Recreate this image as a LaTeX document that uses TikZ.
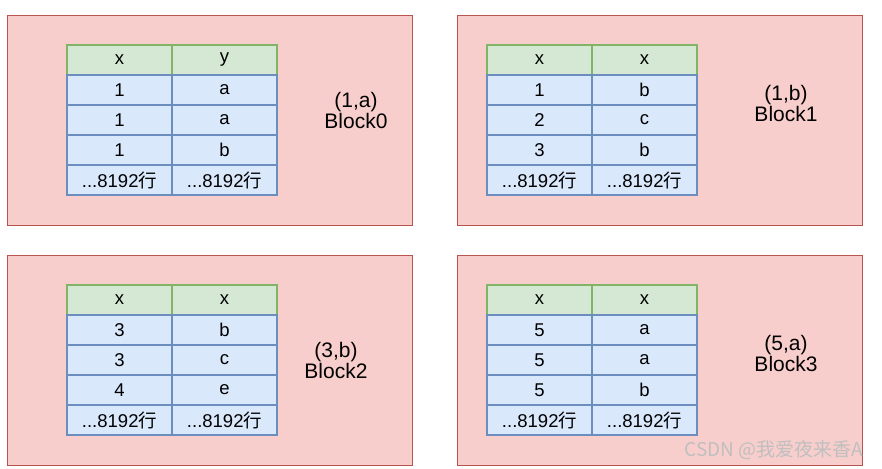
\documentclass[tikz,border=0pt]{standalone}
\usepackage{fontspec}
\setmainfont{Liberation Sans}
\newfontfamily\cjk{Noto Sans CJK SC}
\usetikzlibrary{positioning}
\definecolor{blockfill}{HTML}{F8CECC}
\definecolor{blockline}{HTML}{B85450}
\definecolor{headfill}{HTML}{D5E8D4}
\definecolor{headline}{HTML}{82B366}
\definecolor{cellfill}{HTML}{DAE8FC}
\definecolor{cellline}{HTML}{6C8EBF}
\tikzstyle{block} = [rectangle, draw=blockline, fill=blockfill, line width=1.3pt,
    minimum width=405pt, minimum height=210pt, anchor=north west]
\tikzstyle{head} = [rectangle, draw=headline, fill=headfill, line width=1.5pt,
    minimum width=105pt, minimum height=30pt, inner sep=0pt, outer sep=0pt]
\tikzstyle{cell} = [rectangle, draw=cellline, fill=cellfill, line width=1.5pt,
    minimum width=105pt, minimum height=30pt, inner sep=0pt, outer sep=0pt]
\tikzstyle{tag} = [align=center, font=\fontsize{21}{21}\selectfont]
\newcommand{\hangz}{{\cjk 行}}

\begin{document}
\begin{tikzpicture}[x=1pt, y=-1pt, node distance=0pt, font=\fontsize{18.5}{20}\selectfont]
	\useasboundingbox (0,0) rectangle (882,468);

	% block / corner / table x / header / three rows / key / label place
	\foreach \b/\bx/\by/\tx/\ha/\hb/\aa/\ab/\ba/\bb/\ca/\cb/\key/\lx/\ly in {
		0/7/15/67/x/y/1/a/1/a/1/b/{(1,a)}/356/110,
		1/457/15/487/x/x/1/b/2/c/3/b/{(1,b)}/786/103,
		2/7/255/67/x/x/3/b/3/c/4/e/{(3,b)}/336/360,
		3/457/255/487/x/x/5/a/5/a/5/b/{(5,a)}/786/353}{
		\node [block] (blk\b) at (\bx,\by) {};

		\node [head, anchor=north west] (h\b a) at (\tx,\by+30) {\ha};
		\node [head, right=of h\b a] (h\b b) {\hb};

		\node [cell, below=of h\b a] (r\b a1) {\aa};
		\node [cell, right=of r\b a1] (r\b b1) {\ab};
		\node [cell, below=of r\b a1] (r\b a2) {\ba};
		\node [cell, right=of r\b a2] (r\b b2) {\bb};
		\node [cell, below=of r\b a2] (r\b a3) {\ca};
		\node [cell, right=of r\b a3] (r\b b3) {\cb};
		\node [cell, below=of r\b a3] (r\b a4) {...8192\hangz};
		\node [cell, right=of r\b a4] (r\b b4) {...8192\hangz};

		\node [tag] (lab\b) at (\lx,\ly) {\key\\Block\b};
	}

	\node [text=gray!50, font=\cjk\fontsize{19}{20}\selectfont] (mark) at (774,450) {CSDN @我爱夜来香A};
\end{tikzpicture}
\end{document}
